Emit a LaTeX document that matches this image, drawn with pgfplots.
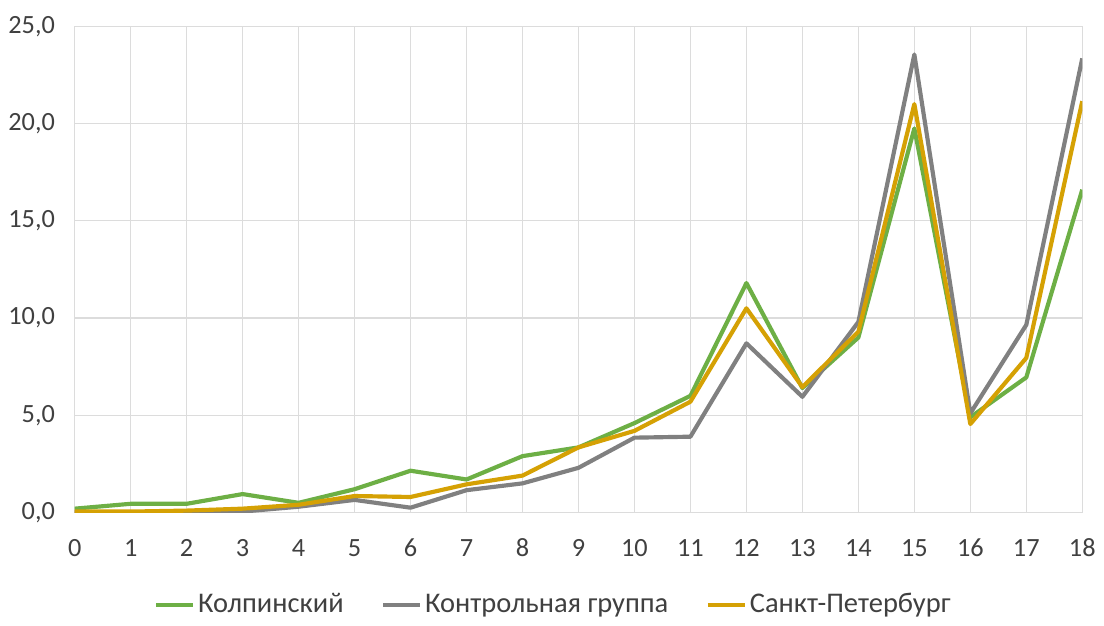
\documentclass[border=0pt]{standalone}
\usepackage{fontspec}
\setmainfont{Carlito}
\usepackage{pgfplots}
\pgfplotsset{compat=1.18}

\definecolor{kolp}{HTML}{6DAF45}
\definecolor{kontr}{HTML}{808080}
\definecolor{spb}{HTML}{D5A104}
\definecolor{gridc}{HTML}{DCDCDC}
\definecolor{txt}{HTML}{404040}

\begin{document}
\fontsize{11.5}{13}\selectfont
\begin{tikzpicture}
\begin{axis}[
    scale only axis,
    width=460pt,
    height=222pt,
    xmin=0, xmax=18,
    ymin=0, ymax=25,
    xtick={0,1,...,18},
    ytick={0,5,10,15,20,25},
    grid=major,
    major grid style={gridc, line width=0.5pt},
    axis line style={gridc, line width=0.5pt},
    tick style={draw=none},
    ticklabel style={font=\fontsize{12}{14}\selectfont, text=txt},
    xticklabel style={text height=9pt, text depth=0pt, yshift=-7pt},
    yticklabel style={xshift=-5pt},
    /pgf/number format/assume math mode=true,
    yticklabel style={/pgf/number format/.cd, fixed, fixed zerofill, precision=1, use comma},
    xticklabel style={/pgf/number format/.cd, fixed, precision=0},
    legend columns=3,
    legend style={draw=none, at={(0.475,-0.19)}, anchor=center,
        font=\fontsize{13}{15}\selectfont, text=txt,
        nodes={inner xsep=1pt},
        /tikz/every even column/.append style={column sep=16pt}},
    legend image code/.code={\draw[#1, line width=2.2pt] (0pt,0pt) -- (17pt,0pt);},
    line join=round,
]
\addplot[kolp, line width=1.9pt] coordinates {
    (0,0.2) (1,0.45) (2,0.45) (3,0.95) (4,0.5) (5,1.2) (6,2.15) (7,1.7) (8,2.9)
    (9,3.35) (10,4.6) (11,6.0) (12,11.8) (13,6.4) (14,9.0) (15,19.75) (16,4.9)
    (17,6.95) (18,16.6)
};
\addlegendentry{Колпинский}
\addplot[kontr, line width=1.9pt] coordinates {
    (0,0.0) (1,0.0) (2,0.05) (3,0.05) (4,0.3) (5,0.65) (6,0.25) (7,1.15) (8,1.5)
    (9,2.3) (10,3.85) (11,3.9) (12,8.7) (13,5.95) (14,9.8) (15,23.55) (16,5.1)
    (17,9.65) (18,23.35)
};
\addlegendentry{Контрольная группа}
\addplot[spb, line width=1.9pt] coordinates {
    (0,0.05) (1,0.05) (2,0.1) (3,0.2) (4,0.4) (5,0.85) (6,0.8) (7,1.45) (8,1.9)
    (9,3.35) (10,4.2) (11,5.7) (12,10.5) (13,6.45) (14,9.3) (15,21.0) (16,4.55)
    (17,7.95) (18,21.15)
};
\addlegendentry{Санкт-Петербург}
\end{axis}
\path (current axis.north) ++(0,12pt);
\end{tikzpicture}
\end{document}
